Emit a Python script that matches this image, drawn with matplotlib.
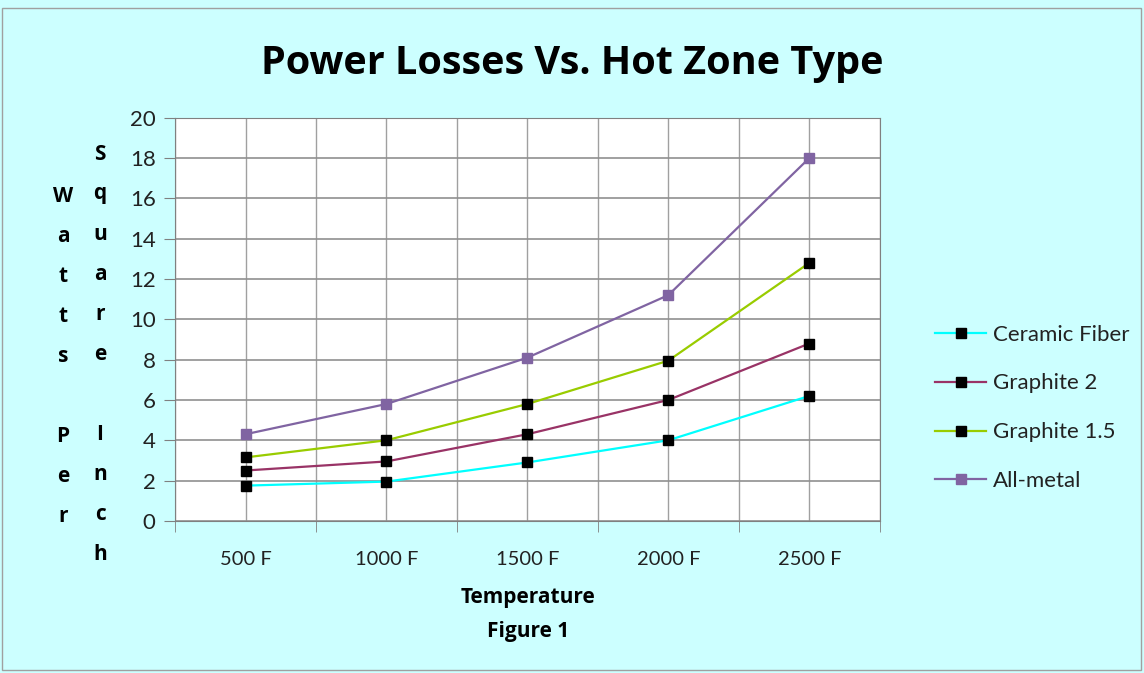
import numpy as np
import matplotlib.pyplot as plt

# data
temps = ["500 F", "1000 F", "1500 F", "2000 F", "2500 F"]
ceramic_fiber = [1.75, 1.95, 2.9, 4.0, 6.2]
graphite_2 = [2.5, 2.95, 4.3, 6.0, 8.8]
graphite_15 = [3.15, 4.0, 5.8, 7.95, 12.8]
all_metal = [4.3, 5.8, 8.1, 11.2, 18.0]

series = [
    ("Ceramic Fiber", ceramic_fiber, "#00FFFF", "black"),
    ("Graphite 2", graphite_2, "#993366", "black"),
    ("Graphite 1.5", graphite_15, "#99CC00", "black"),
    ("All-metal", all_metal, "#8064A2", "#8064A2"),
]

bg = "#CCFFFF"
font = ["Lato", "DejaVu Sans"]
bold_font = ["Open Sans", "DejaVu Sans"]

fig = plt.figure(figsize=(11.44, 6.73), dpi=100, facecolor=bg)
ax = fig.add_axes([0.153, 0.226, 0.616, 0.599])
ax.set_facecolor("white")

x = np.arange(len(temps))
for name, vals, col, mcol in series:
    ax.plot(x, vals, color=col, lw=1.6, marker="s", ms=7,
            mfc=mcol, mec=mcol, label=name, zorder=3)

ax.set_xlim(-0.5, len(temps) - 0.5)
ax.set_ylim(0, 20)
ax.set_yticks(np.arange(0, 21, 2))
ax.set_xticks(x)
ax.set_xticks(np.arange(-0.5, len(temps), 1), minor=True)
ax.set_xticklabels(temps, family=font, fontsize=14.5, color="#222222")
ax.tick_params(axis="x", which="major", length=0, pad=22)
ax.tick_params(axis="x", which="minor", length=8, color="#808080")
ax.tick_params(axis="y", length=8, color="#808080", labelsize=16, pad=6)
for lbl in ax.get_yticklabels():
    lbl.set_family(font)
    lbl.set_color("#222222")
ax.grid(True, which="both", axis="x", color="#A0A0A0", lw=1)
ax.grid(True, axis="y", color="#909090", lw=1.2)
ax.set_axisbelow(True)
for s in ax.spines.values():
    s.set_color("#808080")

fig.suptitle("Power Losses Vs. Hot Zone Type", y=0.935, fontsize=28.5,
             fontweight="bold", family=bold_font)

# stacked y-axis label letters, two columns
col1 = "Watts Per"
col2 = "Square Inch"
for i, ch in enumerate(col1):
    if ch != " ":
        fig.text(63 / 1144, 1 - (196 + i * 40) / 673, ch, ha="center", va="center",
                 fontsize=15, fontweight="bold", family=bold_font)
for i, ch in enumerate(col2):
    if ch != " ":
        fig.text(100 / 1144, 1 - (154 + i * 40) / 673, ch, ha="center", va="center",
                 fontsize=15, fontweight="bold", family=bold_font)

fig.text(528 / 1144, 1 - 597 / 673, "Temperature", ha="center", va="center",
         fontsize=15, fontweight="bold", family=bold_font)
fig.text(528 / 1144, 1 - 631 / 673, "Figure 1", ha="center", va="center",
         fontsize=15, fontweight="bold", family=bold_font)

leg = fig.legend(loc="center left", bbox_to_anchor=(0.800, 0.394), frameon=False,
                 prop={"family": font, "size": 16}, handlelength=2.3,
                 labelspacing=1.3, handletextpad=0.3)
for t in leg.get_texts():
    t.set_color("#222222")

# outer border
fig.patches.append(plt.Rectangle((0.002, 0.004), 0.995, 0.984, transform=fig.transFigure,
                                 fill=False, ec="#A0A0A0", lw=1))

fig.savefig("out.png", dpi=100, facecolor=bg)
